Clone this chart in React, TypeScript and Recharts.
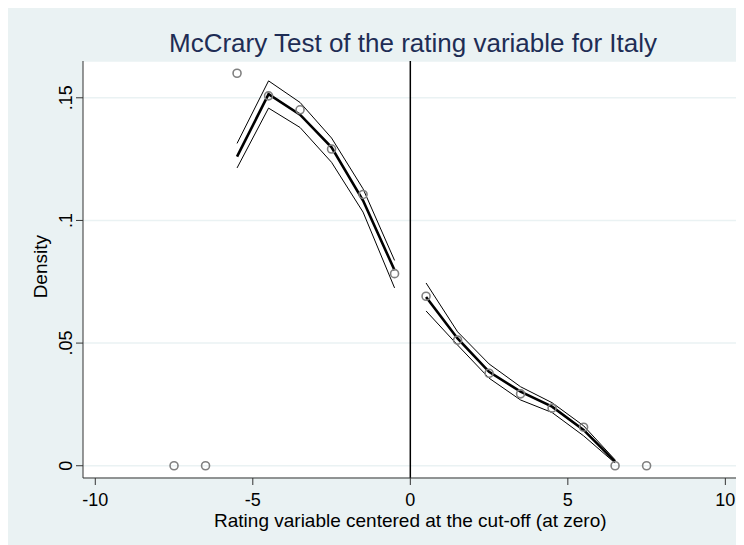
import React from 'react';
import {
  ComposedChart,
  Line,
  Scatter,
  XAxis,
  YAxis,
  CartesianGrid,
  ReferenceLine,
} from 'recharts';

// Bin midpoints and bin densities (hollow circles)
const binX = [-7.5, -6.5, -5.5, -4.5, -3.5, -2.5, -1.5, -0.5, 0.5, 1.5, 2.5, 3.5, 4.5, 5.5, 6.5, 7.5];
const binDensity = [0, 0, 0.160, 0.1508, 0.1451, 0.1291, 0.1106, 0.0783, 0.0691, 0.0512, 0.0377, 0.0293, 0.0235, 0.0157, 0, 0];

// Left of cut-off: fitted density and confidence band
const xLeft = [-5.5, -4.5, -3.5, -2.5, -1.5, -0.5];
const fitLeft = [0.126, 0.1515, 0.1431, 0.1298, 0.1081, 0.0797];
const upperLeft = [0.1314, 0.1569, 0.1481, 0.1336, 0.1129, 0.0837];
const lowerLeft = [0.1214, 0.1458, 0.1379, 0.1237, 0.1034, 0.0725];

// Right of cut-off
const xRight = [0.5, 1.5, 2.5, 3.5, 4.5, 5.5, 6.5];
const fitRight = [0.0688, 0.0519, 0.0383, 0.0302, 0.0241, 0.0146, 0.0017];
const upperRight = [0.0745, 0.0546, 0.0415, 0.0322, 0.0257, 0.0163, 0.0024];
const lowerRight = [0.0631, 0.0492, 0.0357, 0.0268, 0.0217, 0.0122, 0.0011];

const xTicks = [-10, -5, 0, 5, 10];
const yTicks = [0, 0.05, 0.1, 0.15];

const title = 'McCrary Test of the rating variable for Italy';
const xTitle = 'Rating variable centered at the cut-off (at zero)';
const yTitle = 'Density';

const toPts = (xs: number[], ys: number[]) => xs.map((x, i) => ({ x, y: ys[i] }));

const bins = toPts(binX, binDensity);
const fitL = toPts(xLeft, fitLeft);
const upL = toPts(xLeft, upperLeft);
const loL = toPts(xLeft, lowerLeft);
const fitR = toPts(xRight, fitRight);
const upR = toPts(xRight, upperRight);
const loR = toPts(xRight, lowerRight);

const FONT = 'Liberation Sans, Arial, Helvetica, sans-serif';
const BG = '#EAF2F3';

const fmtY = (v: number) => (v === 0 ? '0' : String(v).replace(/^0\./, '.'));

const YTick = (props: any) => {
  const { x, y, payload } = props;
  return (
    <text
      transform={`translate(${x},${y}) rotate(-90)`}
      textAnchor="middle"
      fontSize={18}
      fontFamily={FONT}
      fill="#000"
    >
      {fmtY(payload.value)}
    </text>
  );
};

const Hollow = (props: any) => {
  const { cx, cy } = props;
  if (cx == null || cy == null) return null;
  return <circle cx={cx} cy={cy} r={4} fill="none" stroke="#808080" strokeWidth={1.6} />;
};

export default function App() {
  const W = 736;
  const H = 537;
  return (
    <div style={{ width: W, height: H, background: BG }}>
      <ComposedChart
        width={W}
        height={H}
        margin={{ top: 53, right: 7, left: 0, bottom: 0 }}
        style={{ fontFamily: FONT }}
      >
        <CartesianGrid fill="#ffffff" vertical={false} stroke={BG} strokeWidth={1.5} />
        <XAxis
          type="number"
          dataKey="x"
          domain={[-10.39, 10.37]}
          allowDataOverflow
          ticks={xTicks}
          height={67}
          tickSize={7}
          tickMargin={8}
          stroke="#333"
          tick={{ fontSize: 18, fill: '#000', fontFamily: FONT }}
        />
        <YAxis
          type="number"
          dataKey="y"
          domain={[-0.005, 0.165]}
          allowDataOverflow
          ticks={yTicks}
          width={75}
          tickSize={7}
          tickMargin={4}
          stroke="#333"
          tick={<YTick />}
        />
        <ReferenceLine x={0} stroke="#000" strokeWidth={1.5} />
        <Line data={upL} dataKey="y" stroke="#000" strokeWidth={1} dot={false} isAnimationActive={false} />
        <Line data={loL} dataKey="y" stroke="#000" strokeWidth={1} dot={false} isAnimationActive={false} />
        <Line data={fitL} dataKey="y" stroke="#000" strokeWidth={2.6} dot={false} isAnimationActive={false} />
        <Line data={upR} dataKey="y" stroke="#000" strokeWidth={1} dot={false} isAnimationActive={false} />
        <Line data={loR} dataKey="y" stroke="#000" strokeWidth={1} dot={false} isAnimationActive={false} />
        <Line data={fitR} dataKey="y" stroke="#000" strokeWidth={2.6} dot={false} isAnimationActive={false} />
        <Scatter data={bins} dataKey="y" shape={<Hollow />} isAnimationActive={false} />
        <text x={405} y={43.7} textAnchor="middle" fontSize={26} fontFamily={FONT} fill="#1E2D55">
          {title}
        </text>
        <text x={402.3} y={518.7} textAnchor="middle" fontSize={19} fontFamily={FONT} fill="#000">
          {xTitle}
        </text>
        <text
          transform="translate(39.3,258.7) rotate(-90)"
          textAnchor="middle"
          fontSize={19}
          fontFamily={FONT}
          fill="#000"
        >
          {yTitle}
        </text>
      </ComposedChart>
    </div>
  );
}
